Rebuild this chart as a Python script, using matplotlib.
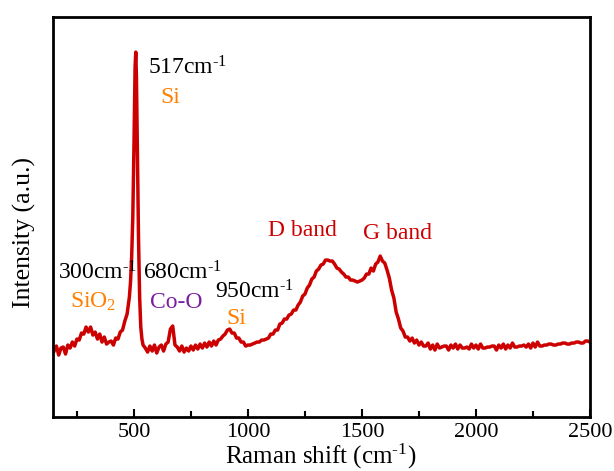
import numpy as np
import matplotlib
matplotlib.use('Agg')
import matplotlib.pyplot as plt
from matplotlib.ticker import MultipleLocator

plt.rcParams['font.family'] = 'Liberation Serif'
plt.rcParams['mathtext.fontset'] = 'custom'
plt.rcParams['mathtext.rm'] = 'Liberation Serif'
plt.rcParams['mathtext.it'] = 'Liberation Serif:italic'

# spectrum (a.u.)
shift_a = np.arange(150, 481, 10)
int_a = [66, 71, 62, 69, 70, 63, 72, 69, 75, 71, 78, 77, 84, 83, 90, 85, 90,
         82, 85, 78, 83, 75, 80, 73, 75, 76, 72, 79, 78, 85, 87, 96, 103, 120]

shift_si = [485, 490, 495, 500, 505, 508, 511, 515, 520, 525, 530, 535, 540]
int_si = [135, 160, 200, 270, 350, 365, 340, 270, 180, 120, 90, 78, 72]

shift_b = np.arange(550, 2501, 10)
int_b = [69, 65, 71, 66, 72, 64, 70, 72, 66, 73, 75, 88, 91, 72, 70, 66, 71, 65,
         69, 66, 71, 67, 72, 68, 73, 69, 74, 70, 75, 71, 76, 72, 77, 78, 81, 83,
         87, 88, 84, 84, 79, 79, 75, 75, 71, 72, 72, 73, 74, 75, 75, 77, 77, 78,
         79, 83, 83, 87, 87, 93, 94, 98, 98, 102, 103, 107, 107, 112, 115, 121,
         123, 129, 132, 138, 140, 146, 148, 152, 153, 157, 157, 156, 156, 153,
         149, 148, 145, 143, 140, 140, 137, 137, 136, 135, 136, 137, 139, 143,
         143, 149, 146, 153, 155, 161, 156, 154, 147, 139, 127, 119, 105, 98, 89,
         86, 80, 80, 76, 79, 74, 77, 72, 75,
         71, 71, 74, 68, 72, 67, 73, 69, 70, 71, 71, 67, 72, 69, 73, 68, 72, 69,
         69, 70, 68, 73, 69, 72, 68, 73, 69, 69, 70, 70, 71, 71, 67, 72, 69, 73,
         68, 72, 69, 74, 70, 70, 71, 71, 72, 70, 73, 69, 74, 70, 75, 71, 71, 72,
         72, 73, 73, 72, 72, 73, 73, 74, 74, 73, 73, 74, 74, 75, 75, 74, 74, 76,
         76, 75]

shift = np.concatenate([shift_a, shift_si, shift_b])
intensity = np.concatenate([int_a, int_si, int_b])

# peak labels: (text, x, y, colour)
labels = [
    ('517cm$^{\\text{-}1}$', 561, 349, 'black'),
    ('Si', 614, 320, '#FF8000'),
    ('300cm$^{\\text{-}1}$', 167, 144, 'black'),
    ('SiO$_2$', 219, 115, '#FF8000'),
    ('680cm$^{\\text{-}1}$', 540, 144, 'black'),
    ('Co-O', 570, 115, '#7B1FA2'),
    ('950cm$^{\\text{-}1}$', 855, 125, 'black'),
    ('Si', 904, 99, '#FF8000'),
    ('D band', 1088, 187, '#CC0000'),
    ('G band', 1504, 184, '#CC0000'),
]

fig = plt.figure(figsize=(6.14, 4.71), dpi=100)
ax = fig.add_axes([0.0863, 0.1146, 0.8746, 0.849])
ax.plot(shift, intensity, color='#CC0000', linewidth=2.5)

for txt, x, y, c in labels:
    ax.text(x, y, txt, color=c, fontsize=17, ha='left', va='center')

ax.set_xlim(145, 2500)
ax.set_ylim(0, 400)
ax.xaxis.set_major_locator(MultipleLocator(500))
ax.xaxis.set_minor_locator(MultipleLocator(250))
ax.set_yticks([])
ax.tick_params(axis='x', which='major', direction='in', length=6, width=1.5,
               labelsize=16, pad=4)
ax.tick_params(axis='x', which='minor', direction='in', length=4, width=1.5)
for s in ax.spines.values():
    s.set_linewidth(2)

fig.text(321 / 614, 1 - 456 / 471, 'Raman shift (cm$^{\\text{-}1}$)', fontsize=18,
         ha='center', va='center')
fig.text(24 / 614, 1 - 233 / 471, 'Intensity (a.u.)', fontsize=18.5,
         ha='center', va='center', rotation=90)

fig.savefig('out.png', dpi=100)
